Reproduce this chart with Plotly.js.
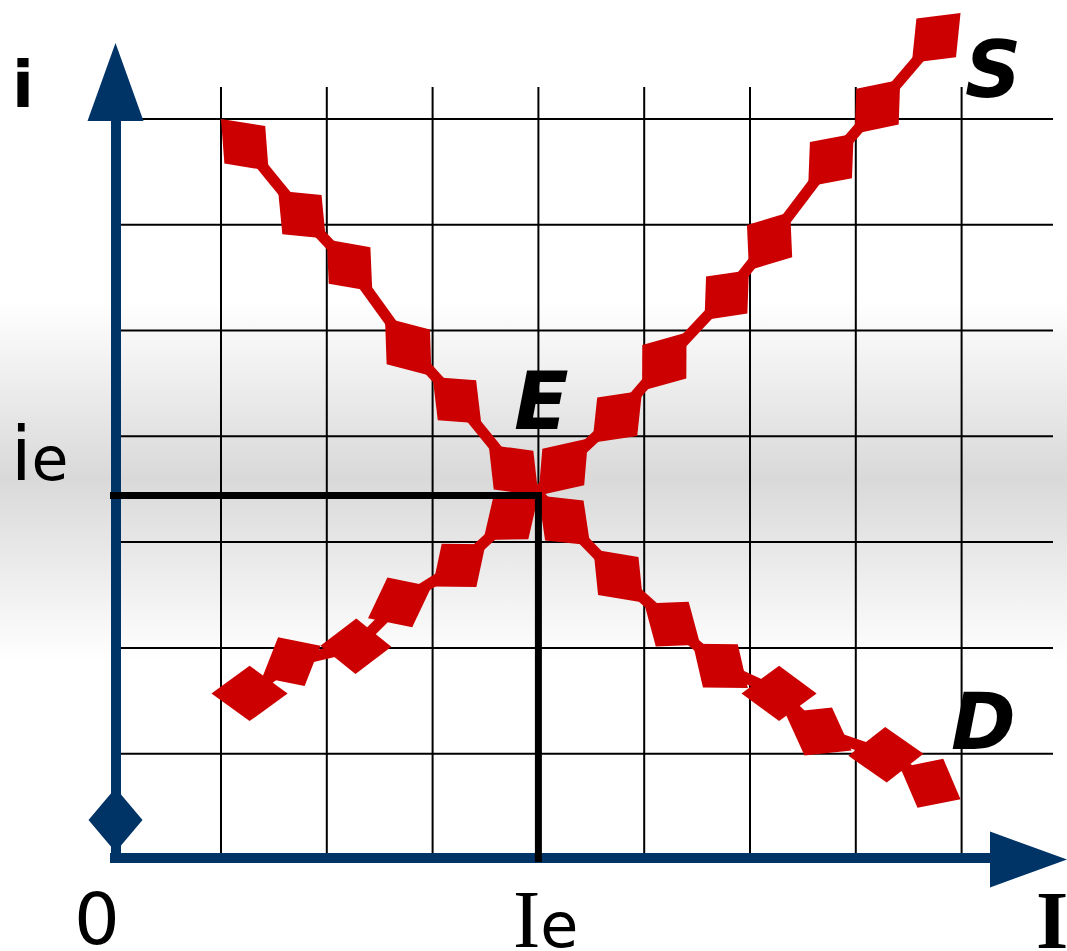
<!DOCTYPE html>
<html><head><meta charset="utf-8">
<script src="https://cdn.plot.ly/plotly-3.0.1.min.js"></script>
<style>
html,body{margin:0;padding:0;background:#fff;overflow:hidden;}
#chart{width:1067px;height:951px;background:linear-gradient(to bottom,#ffffff 0px,#ffffff 300px,#d9d9d9 478px,#ffffff 662px,#ffffff 951px);}
</style></head><body><div id="chart"></div>
<script>
// ---- data (in grid units) ----
const gridX = [1, 2, 3, 4, 5, 6, 7, 8];
const gridY = [1, 2, 3, 4, 5, 6, 7];
const eqX = 4.00, eqY = 3.44;
// curve sample points: pairs (0-1, 2-3, ...) are the wide segments of each curve
const demandX = [1.00,1.45, 1.54,1.99, 2.00,2.43, 2.55,2.99, 3.00,3.46, 3.53,4.00,
                 4.00,4.49, 4.52,4.99, 5.00,5.53, 5.46,5.98, 5.92,6.63, 6.33,6.96, 6.93,7.64, 7.42,7.99];
const demandY = [7.00,6.51, 6.32,5.87, 5.86,5.37, 5.12,4.57, 4.56,4.12, 3.92,3.44,
                 3.44,2.97, 2.93,2.43, 2.42,2.03, 2.04,1.62, 1.57,1.57, 1.39,1.03, 0.98,1.00, 0.87,0.57];
const supplyX = [0.91,1.63, 1.39,1.94, 1.94,2.61, 2.39,2.99, 3.00,3.50, 3.48,4.00,
                 4.00,4.47, 4.51,4.98, 4.98,5.40, 5.57,5.99, 5.99,6.38, 6.55,6.98, 6.99,7.42, 7.53,7.99];
const supplyY = [1.57,1.57, 1.72,2.02, 2.02,2.01, 2.28,2.58, 2.58,2.98, 3.02,3.44,
                 3.44,3.98, 3.94,4.43, 4.43,4.98, 5.10,5.57, 5.57,6.12, 6.36,6.86, 6.86,7.37, 7.53,8.00];
const yAxisName = 'i', xAxisName = 'I';
const originLabel = '0';
const yTickMain = 'i', yTickSub = 'e';
const xTickMain = 'I', xTickSub = 'e';
const supplyName = 'S', demandName = 'D', eqName = 'E';

// ---- geometry helpers ----
const W = 1067, H = 951, PXU = 105.8, X0PX = 115.2, Y0PX = 859.5;
const dx = px => (px - X0PX) / PXU;
const dy = py => (Y0PX - py) / PXU;
const RED = '#cc0000', BLUE = '#003366';
const HALF = 0.262;

function diamonds(xs, ys) {
  const tr = [];
  for (let i = 0; i + 1 < xs.length; i += 2) {
    const x0 = xs[i], y0 = ys[i], x1 = xs[i+1], y1 = ys[i+1];
    const mx = (x0+x1)/2, my = (y0+y1)/2;
    const L = Math.hypot(x1-x0, y1-y0);
    const nx = -(y1-y0)/L*HALF, ny = (x1-x0)/L*HALF;
    tr.push({type:'scatter', mode:'lines', x:[x0, mx+nx, x1, mx-nx, x0], y:[y0, my+ny, y1, my-ny, y0],
      fill:'toself', fillcolor:RED, line:{width:0, color:RED}, hoverinfo:'skip', showlegend:false});
  }
  return tr;
}
// thin links joining the centres of consecutive wide segments
function connectors(xs, ys) {
  const x = [], y = [];
  for (let i = 0; i + 3 < xs.length; i += 2) {
    x.push((xs[i]+xs[i+1])/2, (xs[i+2]+xs[i+3])/2, null);
    y.push((ys[i]+ys[i+1])/2, (ys[i+2]+ys[i+3])/2, null);
  }
  return {type:'scatter', mode:'lines', x, y, connectgaps:false, line:{color:RED, width:11}, hoverinfo:'skip', showlegend:false};
}

const traces = [connectors(demandX, demandY), connectors(supplyX, supplyY)]
  .concat(diamonds(demandX, demandY), diamonds(supplyX, supplyY));

const shapes = [];
gridX.forEach(g => shapes.push({type:'line', layer:'below', xref:'x', yref:'y', x0:g, x1:g, y0:dy(862), y1:dy(87), line:{color:'#000', width:2}}));
gridY.forEach(g => shapes.push({type:'line', layer:'below', xref:'x', yref:'y', x0:0, x1:dx(1053), y0:g, y1:g, line:{color:'#000', width:2}}));
// axes
shapes.push({type:'line', layer:'above', xref:'x', yref:'y', x0:dx(116), x1:dx(116), y0:dy(863), y1:dy(118), line:{color:BLUE, width:10}});
shapes.push({type:'line', layer:'above', xref:'x', yref:'y', x0:dx(110), x1:dx(994), y0:dy(858), y1:dy(858), line:{color:BLUE, width:10}});
shapes.push({type:'path', layer:'above', xref:'x', yref:'y', fillcolor:BLUE, line:{width:0},
  path:`M ${dx(115.5)} ${dy(43)} L ${dx(143.5)} ${dy(121)} L ${dx(87.5)} ${dy(121)} Z`});
shapes.push({type:'path', layer:'above', xref:'x', yref:'y', fillcolor:BLUE, line:{width:0},
  path:`M ${dx(1067)} ${dy(859.5)} L ${dx(990)} ${dy(887.5)} L ${dx(990)} ${dy(831.5)} Z`});
shapes.push({type:'path', layer:'above', xref:'x', yref:'y', fillcolor:BLUE, line:{width:0},
  path:`M ${dx(115.5)} ${dy(788)} L ${dx(142.5)} ${dy(820)} L ${dx(115.5)} ${dy(852)} L ${dx(88.5)} ${dy(820)} Z`});
// equilibrium guide lines
shapes.push({type:'path', layer:'above', xref:'x', yref:'y', line:{color:'#000', width:7},
  path:`M ${dx(110)} ${eqY} L ${eqX} ${eqY} L ${eqX} ${dy(862)}`});

function ann(text, px, py, family, size, weight, style) {
  return {text, xref:'x', yref:'y', x:dx(px), y:dy(py), showarrow:false, xanchor:'center', yanchor:'middle',
    font:{family, size, color:'#000', weight:weight||'normal', style:style||'normal'}};
}
const annotations = [
  ann(yAxisName, 23, 85, 'DejaVu Sans', 64, 'bold'),
  ann(yTickMain + '<span style="font-size:60px">' + yTickSub + '</span>', 39, 454, 'DejaVu Sans', 74),
  ann(originLabel, 97, 919, 'DejaVu Sans', 72),
  ann(xTickMain + '<span style="font-family:DejaVu Sans;font-size:62px">' + xTickSub + '</span>', 545, 919, 'Liberation Serif', 82),
  ann(xAxisName, 1052, 920, 'Liberation Serif', 83, 'bold'),
  ann(eqName, 541, 401, 'DejaVu Sans', 80, 'bold', 'italic'),
  ann(supplyName, 993, 70, 'DejaVu Sans', 78, 'bold', 'italic'),
  ann(demandName, 983, 722, 'DejaVu Sans', 78, 'bold', 'italic')
];

const layout = {
  width: W, height: H, margin:{l:0, r:0, t:0, b:0, pad:0},
  paper_bgcolor:'rgba(0,0,0,0)', plot_bgcolor:'rgba(0,0,0,0)',
  showlegend:false,
  xaxis:{range:[dx(0), dx(W)], visible:false, fixedrange:true},
  yaxis:{range:[dy(H), dy(0)], visible:false, fixedrange:true},
  shapes, annotations
};
Plotly.newPlot('chart', traces, layout, {displayModeBar:false, staticPlot:true});
</script>
</body></html>
